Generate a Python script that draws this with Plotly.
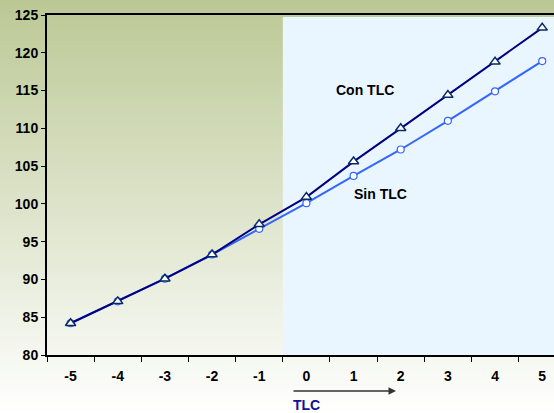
import plotly.graph_objects as go

years = [-5, -4, -3, -2, -1, 0, 1, 2, 3, 4, 5]
con_tlc = [84.2, 87.1, 90.1, 93.3, 97.3, 100.9, 105.6, 110.0, 114.4, 118.8, 123.3]
sin_tlc = [84.2, 87.1, 90.1, 93.3, 96.7, 100.1, 103.7, 107.2, 111.0, 114.9, 118.9]
y_ticks = [80, 85, 90, 95, 100, 105, 110, 115, 120, 125]

W, H = 554, 413
L, R, T, B = 47, 0, 15, 58
pw, ph = W - L - R, H - T - B

FONT = "Liberation Sans, Arial, sans-serif"
FS = 14

fig = go.Figure()

fig.add_trace(go.Scatter(
    x=years, y=sin_tlc, mode="lines+markers", name="Sin TLC",
    line=dict(color="#3366FF", width=2),
    marker=dict(symbol="circle", size=7, color="white",
                line=dict(color="#3366FF", width=1.2)),
))
fig.add_trace(go.Scatter(
    x=years, y=con_tlc, mode="lines+markers", name="Con TLC",
    line=dict(color="#000080", width=2),
    marker=dict(symbol="triangle-up", size=9, color="white",
                line=dict(color="#0A2A66", width=1.5)),
))

shapes = []
# background gradient (green at top to white at bottom)
top_c = (187, 200, 149)
bot_c = (255, 255, 255)
n = 140
for i in range(n):
    py0 = H * i / n
    py1 = H * (i + 1) / n + 0.8
    t = (i + 0.5) / n
    c = tuple(round(top_c[k] + (bot_c[k] - top_c[k]) * t) for k in range(3))
    shapes.append(dict(
        type="rect", xref="paper", yref="paper", layer="below",
        x0=-L / pw - 0.01, x1=1.01,
        y0=(H - B - py1) / ph, y1=(H - B - py0) / ph,
        fillcolor="rgb(%d,%d,%d)" % c, line=dict(width=0),
    ))
# light blue projection region
shapes.append(dict(
    type="rect", xref="x", yref="y", layer="below",
    x0=-0.5, x1=5.6, y0=80, y1=124.75,
    fillcolor="#EAF6FF", line=dict(width=0),
))

annotations = [
    dict(x=1.25, y=115.1, xref="x", yref="y", text="Con TLC", showarrow=False,
         font=dict(family=FONT, size=FS, color="black", weight="bold")),
    dict(x=1.58, y=101.3, xref="x", yref="y", text="Sin TLC", showarrow=False,
         font=dict(family=FONT, size=FS, color="black", weight="bold")),
    dict(x=1.9, y=(H - B - 391) / ph, xref="x", yref="paper", text="",
         showarrow=True, ax=-104, ay=0, axref="pixel", ayref="pixel",
         arrowhead=2, arrowsize=1, arrowwidth=1.5, arrowcolor="#333333"),
    dict(x=0, y=(H - B - 404.5) / ph, xref="x", yref="paper", text="TLC",
         showarrow=False, xanchor="center", yanchor="middle",
         font=dict(family=FONT, size=FS, color="#10109A", weight="bold")),
]

fig.update_layout(
    width=W, height=H,
    margin=dict(l=L, r=R, t=T, b=B, pad=0, autoexpand=False),
    paper_bgcolor="white",
    plot_bgcolor="rgba(0,0,0,0)",
    showlegend=False,
    shapes=shapes,
    annotations=annotations,
    xaxis=dict(
        range=[-5.5, 5.25], showgrid=False, zeroline=False, automargin=False,
        tickmode="array", tickvals=years, ticktext=[str(v) for v in years],
        ticks="", ticklabelstandoff=7,
        tickfont=dict(family=FONT, size=FS, color="black", weight="bold"),
        showline=True, linecolor="black", linewidth=2, mirror=True,
        minor=dict(tickmode="array", tickvals=[v - 0.5 for v in years],
                   ticks="outside", ticklen=5, tickcolor="black", tickwidth=1),
    ),
    yaxis=dict(
        range=[80, 125], showgrid=False, zeroline=False, automargin=False,
        tickmode="array", tickvals=y_ticks,
        ticks="outside", ticklen=4, tickcolor="black", tickwidth=1,
        tickfont=dict(family=FONT, size=FS, color="black", weight="bold"),
        showline=True, linecolor="black", linewidth=2,
    ),
)

fig.write_html(
    "out.html",
    config={"displayModeBar": False},
    post_script="document.body.style.margin='0';document.body.style.padding='0';",
)
